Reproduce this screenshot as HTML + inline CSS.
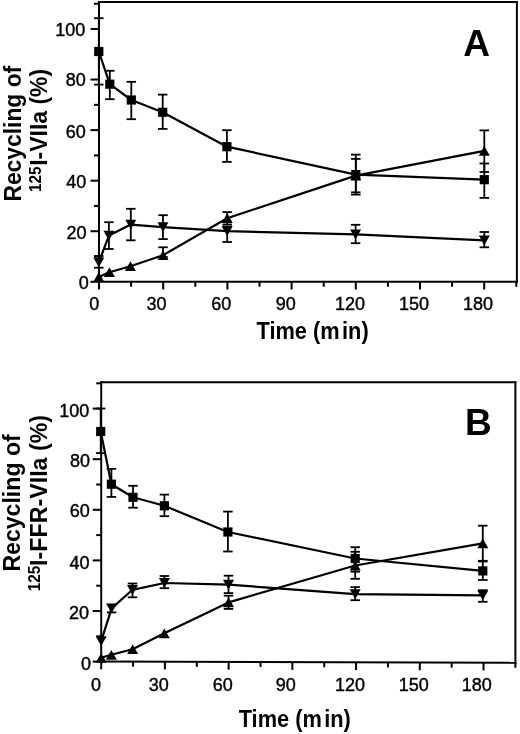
<!DOCTYPE html>
<html><head><meta charset="utf-8"><style>
html,body{margin:0;padding:0;background:#fff;width:520px;height:734px;overflow:hidden;}
svg{display:block;filter:grayscale(1);}
text{font-family:"Liberation Sans", sans-serif;}
</style></head><body>
<svg width="520" height="734" viewBox="0 0 520 734">
<rect width="520" height="734" fill="#fff"/>
<g stroke="#000" stroke-linecap="square">
<line x1="99.00" y1="2.00" x2="99.00" y2="281.80" stroke-width="2.0"/>
<line x1="99.00" y1="2.00" x2="516.90" y2="2.00" stroke-width="2.0"/>
<line x1="516.90" y1="2.00" x2="516.90" y2="281.80" stroke-width="2.0"/>
<line x1="99.00" y1="281.80" x2="516.90" y2="281.80" stroke-width="2.0"/>
</g>
<g stroke="#000" stroke-linecap="butt">
<line x1="90.50" y1="281.80" x2="99.00" y2="281.80" stroke-width="2.0"/>
<line x1="94.00" y1="256.52" x2="99.00" y2="256.52" stroke-width="2.0"/>
<line x1="90.50" y1="231.24" x2="99.00" y2="231.24" stroke-width="2.0"/>
<line x1="94.00" y1="205.96" x2="99.00" y2="205.96" stroke-width="2.0"/>
<line x1="90.50" y1="180.68" x2="99.00" y2="180.68" stroke-width="2.0"/>
<line x1="94.00" y1="155.40" x2="99.00" y2="155.40" stroke-width="2.0"/>
<line x1="90.50" y1="130.12" x2="99.00" y2="130.12" stroke-width="2.0"/>
<line x1="94.00" y1="104.84" x2="99.00" y2="104.84" stroke-width="2.0"/>
<line x1="90.50" y1="79.56" x2="99.00" y2="79.56" stroke-width="2.0"/>
<line x1="94.00" y1="54.28" x2="99.00" y2="54.28" stroke-width="2.0"/>
<line x1="90.50" y1="29.00" x2="99.00" y2="29.00" stroke-width="2.0"/>
<line x1="94.00" y1="3.72" x2="99.00" y2="3.72" stroke-width="2.0"/>
<line x1="99.00" y1="281.80" x2="99.00" y2="289.50" stroke-width="2.0"/>
<line x1="131.10" y1="281.80" x2="131.10" y2="286.80" stroke-width="2.0"/>
<line x1="163.20" y1="281.80" x2="163.20" y2="289.50" stroke-width="2.0"/>
<line x1="195.30" y1="281.80" x2="195.30" y2="286.80" stroke-width="2.0"/>
<line x1="227.40" y1="281.80" x2="227.40" y2="289.50" stroke-width="2.0"/>
<line x1="259.50" y1="281.80" x2="259.50" y2="286.80" stroke-width="2.0"/>
<line x1="291.60" y1="281.80" x2="291.60" y2="289.50" stroke-width="2.0"/>
<line x1="323.70" y1="281.80" x2="323.70" y2="286.80" stroke-width="2.0"/>
<line x1="355.80" y1="281.80" x2="355.80" y2="289.50" stroke-width="2.0"/>
<line x1="387.90" y1="281.80" x2="387.90" y2="286.80" stroke-width="2.0"/>
<line x1="420.00" y1="281.80" x2="420.00" y2="289.50" stroke-width="2.0"/>
<line x1="452.10" y1="281.80" x2="452.10" y2="286.80" stroke-width="2.0"/>
<line x1="484.20" y1="281.80" x2="484.20" y2="289.50" stroke-width="2.0"/>
<line x1="516.30" y1="281.80" x2="516.30" y2="286.80" stroke-width="2.0"/>
</g>
<g font-family="Liberation Sans, sans-serif" font-size="18" fill="#000" stroke="#000" stroke-width="0.4">
<text x="70.35" y="35.90" text-anchor="middle">100</text>
<text x="75.80" y="85.80" text-anchor="middle">80</text>
<text x="75.70" y="137.50" text-anchor="middle">60</text>
<text x="76.25" y="188.00" text-anchor="middle">40</text>
<text x="76.50" y="238.90" text-anchor="middle">20</text>
<text x="83.80" y="288.90" text-anchor="middle">0</text>
<text x="94.20" y="310.00" text-anchor="middle">0</text>
<text x="156.50" y="310.00" text-anchor="middle">30</text>
<text x="221.20" y="310.00" text-anchor="middle">60</text>
<text x="285.70" y="310.00" text-anchor="middle">90</text>
<text x="350.00" y="310.00" text-anchor="middle">120</text>
<text x="414.00" y="310.00" text-anchor="middle">150</text>
<text x="478.00" y="310.00" text-anchor="middle">180</text>
</g>
<g stroke="#000">
<polyline points="98.80,51.50 109.80,84.20 131.30,100.00 162.70,112.30 226.90,146.70 355.80,174.60 484.30,179.70" fill="none" stroke-width="2.2" stroke-linejoin="round"/>
<polyline points="98.80,277.00 109.40,272.20 130.40,266.20 163.00,255.20 227.20,218.20 355.80,175.60 484.30,150.90" fill="none" stroke-width="2.2" stroke-linejoin="round"/>
<polyline points="98.80,262.40 108.90,235.60 130.80,224.60 163.00,227.20 227.20,231.20 355.60,234.40 484.30,240.30" fill="none" stroke-width="2.2" stroke-linejoin="round"/>
<line x1="98.80" y1="18.20" x2="98.80" y2="84.60" stroke-width="1.8"/>
<line x1="94.05" y1="18.20" x2="103.55" y2="18.20" stroke-width="1.8"/>
<line x1="94.05" y1="84.60" x2="103.55" y2="84.60" stroke-width="1.8"/>
<line x1="109.80" y1="70.80" x2="109.80" y2="99.20" stroke-width="1.8"/>
<line x1="105.05" y1="70.80" x2="114.55" y2="70.80" stroke-width="1.8"/>
<line x1="105.05" y1="99.20" x2="114.55" y2="99.20" stroke-width="1.8"/>
<line x1="131.30" y1="81.80" x2="131.30" y2="119.20" stroke-width="1.8"/>
<line x1="126.55" y1="81.80" x2="136.05" y2="81.80" stroke-width="1.8"/>
<line x1="126.55" y1="119.20" x2="136.05" y2="119.20" stroke-width="1.8"/>
<line x1="162.70" y1="94.60" x2="162.70" y2="128.90" stroke-width="1.8"/>
<line x1="157.95" y1="94.60" x2="167.45" y2="94.60" stroke-width="1.8"/>
<line x1="157.95" y1="128.90" x2="167.45" y2="128.90" stroke-width="1.8"/>
<line x1="226.90" y1="130.20" x2="226.90" y2="161.90" stroke-width="1.8"/>
<line x1="222.15" y1="130.20" x2="231.65" y2="130.20" stroke-width="1.8"/>
<line x1="222.15" y1="161.90" x2="231.65" y2="161.90" stroke-width="1.8"/>
<line x1="355.80" y1="154.60" x2="355.80" y2="194.60" stroke-width="1.8"/>
<line x1="351.05" y1="154.60" x2="360.55" y2="154.60" stroke-width="1.8"/>
<line x1="351.05" y1="194.60" x2="360.55" y2="194.60" stroke-width="1.8"/>
<line x1="484.30" y1="163.50" x2="484.30" y2="197.90" stroke-width="1.8"/>
<line x1="479.55" y1="163.50" x2="489.05" y2="163.50" stroke-width="1.8"/>
<line x1="479.55" y1="197.90" x2="489.05" y2="197.90" stroke-width="1.8"/>
<line x1="163.00" y1="247.30" x2="163.00" y2="257.00" stroke-width="1.8"/>
<line x1="158.25" y1="247.30" x2="167.75" y2="247.30" stroke-width="1.8"/>
<line x1="158.25" y1="257.00" x2="167.75" y2="257.00" stroke-width="1.8"/>
<line x1="227.20" y1="212.10" x2="227.20" y2="224.50" stroke-width="1.8"/>
<line x1="222.45" y1="212.10" x2="231.95" y2="212.10" stroke-width="1.8"/>
<line x1="222.45" y1="224.50" x2="231.95" y2="224.50" stroke-width="1.8"/>
<line x1="355.80" y1="158.90" x2="355.80" y2="192.30" stroke-width="1.8"/>
<line x1="351.05" y1="158.90" x2="360.55" y2="158.90" stroke-width="1.8"/>
<line x1="351.05" y1="192.30" x2="360.55" y2="192.30" stroke-width="1.8"/>
<line x1="484.30" y1="130.40" x2="484.30" y2="172.00" stroke-width="1.8"/>
<line x1="479.55" y1="130.40" x2="489.05" y2="130.40" stroke-width="1.8"/>
<line x1="479.55" y1="172.00" x2="489.05" y2="172.00" stroke-width="1.8"/>
<line x1="98.80" y1="256.00" x2="98.80" y2="267.70" stroke-width="1.8"/>
<line x1="94.05" y1="256.00" x2="103.55" y2="256.00" stroke-width="1.8"/>
<line x1="94.05" y1="267.70" x2="103.55" y2="267.70" stroke-width="1.8"/>
<line x1="108.90" y1="222.20" x2="108.90" y2="249.00" stroke-width="1.8"/>
<line x1="104.15" y1="222.20" x2="113.65" y2="222.20" stroke-width="1.8"/>
<line x1="104.15" y1="249.00" x2="113.65" y2="249.00" stroke-width="1.8"/>
<line x1="130.80" y1="208.80" x2="130.80" y2="240.30" stroke-width="1.8"/>
<line x1="126.05" y1="208.80" x2="135.55" y2="208.80" stroke-width="1.8"/>
<line x1="126.05" y1="240.30" x2="135.55" y2="240.30" stroke-width="1.8"/>
<line x1="163.00" y1="215.20" x2="163.00" y2="239.10" stroke-width="1.8"/>
<line x1="158.25" y1="215.20" x2="167.75" y2="215.20" stroke-width="1.8"/>
<line x1="158.25" y1="239.10" x2="167.75" y2="239.10" stroke-width="1.8"/>
<line x1="227.20" y1="226.50" x2="227.20" y2="242.00" stroke-width="1.8"/>
<line x1="222.45" y1="226.50" x2="231.95" y2="226.50" stroke-width="1.8"/>
<line x1="222.45" y1="242.00" x2="231.95" y2="242.00" stroke-width="1.8"/>
<line x1="355.60" y1="224.80" x2="355.60" y2="243.20" stroke-width="1.8"/>
<line x1="350.85" y1="224.80" x2="360.35" y2="224.80" stroke-width="1.8"/>
<line x1="350.85" y1="243.20" x2="360.35" y2="243.20" stroke-width="1.8"/>
<line x1="484.30" y1="232.00" x2="484.30" y2="247.30" stroke-width="1.8"/>
<line x1="479.55" y1="232.00" x2="489.05" y2="232.00" stroke-width="1.8"/>
<line x1="479.55" y1="247.30" x2="489.05" y2="247.30" stroke-width="1.8"/>
</g>
<g>
<rect x="94.20" y="46.90" width="9.2" height="9.2" fill="#000" stroke="none"/>
<rect x="105.20" y="79.60" width="9.2" height="9.2" fill="#000" stroke="none"/>
<rect x="126.70" y="95.40" width="9.2" height="9.2" fill="#000" stroke="none"/>
<rect x="158.10" y="107.70" width="9.2" height="9.2" fill="#000" stroke="none"/>
<rect x="222.30" y="142.10" width="9.2" height="9.2" fill="#000" stroke="none"/>
<rect x="351.20" y="170.00" width="9.2" height="9.2" fill="#000" stroke="none"/>
<rect x="479.70" y="175.10" width="9.2" height="9.2" fill="#000" stroke="none"/>
<polygon points="98.80,272.10 104.30,281.90 93.30,281.90" fill="#000" stroke="none"/>
<polygon points="109.40,267.30 114.90,277.10 103.90,277.10" fill="#000" stroke="none"/>
<polygon points="130.40,261.30 135.90,271.10 124.90,271.10" fill="#000" stroke="none"/>
<polygon points="163.00,250.30 168.50,260.10 157.50,260.10" fill="#000" stroke="none"/>
<polygon points="227.20,213.30 232.70,223.10 221.70,223.10" fill="#000" stroke="none"/>
<polygon points="355.80,170.70 361.30,180.50 350.30,180.50" fill="#000" stroke="none"/>
<polygon points="484.30,146.00 489.80,155.80 478.80,155.80" fill="#000" stroke="none"/>
<polygon points="93.30,257.50 104.30,257.50 98.80,267.30" fill="#000" stroke="none"/>
<polygon points="103.40,230.70 114.40,230.70 108.90,240.50" fill="#000" stroke="none"/>
<polygon points="125.30,219.70 136.30,219.70 130.80,229.50" fill="#000" stroke="none"/>
<polygon points="157.50,222.30 168.50,222.30 163.00,232.10" fill="#000" stroke="none"/>
<polygon points="221.70,226.30 232.70,226.30 227.20,236.10" fill="#000" stroke="none"/>
<polygon points="350.10,229.50 361.10,229.50 355.60,239.30" fill="#000" stroke="none"/>
<polygon points="478.80,235.40 489.80,235.40 484.30,245.20" fill="#000" stroke="none"/>
</g>
<g stroke="#000" stroke-linecap="square">
<line x1="101.20" y1="382.30" x2="101.20" y2="661.60" stroke-width="2.0"/>
<line x1="101.20" y1="382.30" x2="515.40" y2="382.30" stroke-width="2.0"/>
<line x1="515.40" y1="382.30" x2="515.40" y2="662.80" stroke-width="2.0"/>
<line x1="101.20" y1="661.60" x2="515.40" y2="662.80" stroke-width="2.0"/>
</g>
<g stroke="#000" stroke-linecap="butt">
<line x1="92.70" y1="661.60" x2="101.20" y2="661.60" stroke-width="2.0"/>
<line x1="96.20" y1="636.30" x2="101.20" y2="636.30" stroke-width="2.0"/>
<line x1="92.70" y1="611.00" x2="101.20" y2="611.00" stroke-width="2.0"/>
<line x1="96.20" y1="585.70" x2="101.20" y2="585.70" stroke-width="2.0"/>
<line x1="92.70" y1="560.40" x2="101.20" y2="560.40" stroke-width="2.0"/>
<line x1="96.20" y1="535.10" x2="101.20" y2="535.10" stroke-width="2.0"/>
<line x1="92.70" y1="509.80" x2="101.20" y2="509.80" stroke-width="2.0"/>
<line x1="96.20" y1="484.50" x2="101.20" y2="484.50" stroke-width="2.0"/>
<line x1="92.70" y1="459.20" x2="101.20" y2="459.20" stroke-width="2.0"/>
<line x1="96.20" y1="433.90" x2="101.20" y2="433.90" stroke-width="2.0"/>
<line x1="92.70" y1="408.60" x2="101.20" y2="408.60" stroke-width="2.0"/>
<line x1="96.20" y1="383.30" x2="101.20" y2="383.30" stroke-width="2.0"/>
<line x1="101.20" y1="661.60" x2="101.20" y2="669.30" stroke-width="2.0"/>
<line x1="133.06" y1="661.69" x2="133.06" y2="666.69" stroke-width="2.0"/>
<line x1="164.92" y1="661.78" x2="164.92" y2="669.48" stroke-width="2.0"/>
<line x1="196.78" y1="661.88" x2="196.78" y2="666.88" stroke-width="2.0"/>
<line x1="228.64" y1="661.97" x2="228.64" y2="669.67" stroke-width="2.0"/>
<line x1="260.50" y1="662.06" x2="260.50" y2="667.06" stroke-width="2.0"/>
<line x1="292.36" y1="662.15" x2="292.36" y2="669.85" stroke-width="2.0"/>
<line x1="324.22" y1="662.25" x2="324.22" y2="667.25" stroke-width="2.0"/>
<line x1="356.08" y1="662.34" x2="356.08" y2="670.04" stroke-width="2.0"/>
<line x1="387.94" y1="662.43" x2="387.94" y2="667.43" stroke-width="2.0"/>
<line x1="419.80" y1="662.52" x2="419.80" y2="670.22" stroke-width="2.0"/>
<line x1="451.66" y1="662.62" x2="451.66" y2="667.62" stroke-width="2.0"/>
<line x1="483.52" y1="662.71" x2="483.52" y2="670.41" stroke-width="2.0"/>
<line x1="515.38" y1="662.80" x2="515.38" y2="667.80" stroke-width="2.0"/>
</g>
<g font-family="Liberation Sans, sans-serif" font-size="18" fill="#000" stroke="#000" stroke-width="0.4">
<text x="74.35" y="416.80" text-anchor="middle">100</text>
<text x="79.95" y="466.90" text-anchor="middle">80</text>
<text x="79.85" y="516.70" text-anchor="middle">60</text>
<text x="79.45" y="569.00" text-anchor="middle">40</text>
<text x="79.00" y="618.60" text-anchor="middle">20</text>
<text x="85.90" y="669.50" text-anchor="middle">0</text>
<text x="96.10" y="691.10" text-anchor="middle">0</text>
<text x="158.80" y="691.10" text-anchor="middle">30</text>
<text x="222.80" y="691.10" text-anchor="middle">60</text>
<text x="285.70" y="691.10" text-anchor="middle">90</text>
<text x="350.00" y="691.10" text-anchor="middle">120</text>
<text x="413.80" y="691.10" text-anchor="middle">150</text>
<text x="476.80" y="691.10" text-anchor="middle">180</text>
</g>
<g stroke="#000">
<polyline points="100.70,431.50 111.40,484.20 133.00,497.30 164.40,505.80 227.90,532.00 355.20,558.50 482.80,570.90" fill="none" stroke-width="2.2" stroke-linejoin="round"/>
<polyline points="101.20,657.80 111.30,654.80 132.60,649.20 164.30,633.30 228.50,602.40 355.20,565.50 482.80,543.30" fill="none" stroke-width="2.2" stroke-linejoin="round"/>
<polyline points="101.20,641.20 111.60,608.40 132.50,589.80 164.40,583.00 228.50,584.60 355.20,594.20 482.80,595.30" fill="none" stroke-width="2.2" stroke-linejoin="round"/>
<line x1="100.70" y1="408.50" x2="100.70" y2="453.10" stroke-width="1.8"/>
<line x1="95.95" y1="408.50" x2="105.45" y2="408.50" stroke-width="1.8"/>
<line x1="95.95" y1="453.10" x2="105.45" y2="453.10" stroke-width="1.8"/>
<line x1="111.40" y1="468.90" x2="111.40" y2="496.90" stroke-width="1.8"/>
<line x1="106.65" y1="468.90" x2="116.15" y2="468.90" stroke-width="1.8"/>
<line x1="106.65" y1="496.90" x2="116.15" y2="496.90" stroke-width="1.8"/>
<line x1="133.00" y1="485.80" x2="133.00" y2="507.70" stroke-width="1.8"/>
<line x1="128.25" y1="485.80" x2="137.75" y2="485.80" stroke-width="1.8"/>
<line x1="128.25" y1="507.70" x2="137.75" y2="507.70" stroke-width="1.8"/>
<line x1="164.40" y1="494.60" x2="164.40" y2="516.20" stroke-width="1.8"/>
<line x1="159.65" y1="494.60" x2="169.15" y2="494.60" stroke-width="1.8"/>
<line x1="159.65" y1="516.20" x2="169.15" y2="516.20" stroke-width="1.8"/>
<line x1="227.90" y1="511.60" x2="227.90" y2="551.50" stroke-width="1.8"/>
<line x1="223.15" y1="511.60" x2="232.65" y2="511.60" stroke-width="1.8"/>
<line x1="223.15" y1="551.50" x2="232.65" y2="551.50" stroke-width="1.8"/>
<line x1="355.20" y1="547.20" x2="355.20" y2="571.70" stroke-width="1.8"/>
<line x1="350.45" y1="547.20" x2="359.95" y2="547.20" stroke-width="1.8"/>
<line x1="350.45" y1="571.70" x2="359.95" y2="571.70" stroke-width="1.8"/>
<line x1="482.80" y1="561.50" x2="482.80" y2="580.00" stroke-width="1.8"/>
<line x1="478.05" y1="561.50" x2="487.55" y2="561.50" stroke-width="1.8"/>
<line x1="478.05" y1="580.00" x2="487.55" y2="580.00" stroke-width="1.8"/>
<line x1="228.50" y1="595.70" x2="228.50" y2="608.90" stroke-width="1.8"/>
<line x1="223.75" y1="595.70" x2="233.25" y2="595.70" stroke-width="1.8"/>
<line x1="223.75" y1="608.90" x2="233.25" y2="608.90" stroke-width="1.8"/>
<line x1="355.20" y1="551.80" x2="355.20" y2="578.80" stroke-width="1.8"/>
<line x1="350.45" y1="551.80" x2="359.95" y2="551.80" stroke-width="1.8"/>
<line x1="350.45" y1="578.80" x2="359.95" y2="578.80" stroke-width="1.8"/>
<line x1="482.80" y1="525.70" x2="482.80" y2="560.80" stroke-width="1.8"/>
<line x1="478.05" y1="525.70" x2="487.55" y2="525.70" stroke-width="1.8"/>
<line x1="478.05" y1="560.80" x2="487.55" y2="560.80" stroke-width="1.8"/>
<line x1="132.50" y1="583.50" x2="132.50" y2="597.30" stroke-width="1.8"/>
<line x1="127.75" y1="583.50" x2="137.25" y2="583.50" stroke-width="1.8"/>
<line x1="127.75" y1="597.30" x2="137.25" y2="597.30" stroke-width="1.8"/>
<line x1="164.40" y1="576.00" x2="164.40" y2="588.20" stroke-width="1.8"/>
<line x1="159.65" y1="576.00" x2="169.15" y2="576.00" stroke-width="1.8"/>
<line x1="159.65" y1="588.20" x2="169.15" y2="588.20" stroke-width="1.8"/>
<line x1="228.50" y1="575.70" x2="228.50" y2="593.10" stroke-width="1.8"/>
<line x1="223.75" y1="575.70" x2="233.25" y2="575.70" stroke-width="1.8"/>
<line x1="223.75" y1="593.10" x2="233.25" y2="593.10" stroke-width="1.8"/>
<line x1="355.20" y1="587.10" x2="355.20" y2="600.20" stroke-width="1.8"/>
<line x1="350.45" y1="587.10" x2="359.95" y2="587.10" stroke-width="1.8"/>
<line x1="350.45" y1="600.20" x2="359.95" y2="600.20" stroke-width="1.8"/>
<line x1="482.80" y1="590.20" x2="482.80" y2="601.80" stroke-width="1.8"/>
<line x1="478.05" y1="590.20" x2="487.55" y2="590.20" stroke-width="1.8"/>
<line x1="478.05" y1="601.80" x2="487.55" y2="601.80" stroke-width="1.8"/>
<line x1="106.85" y1="612.40" x2="116.35" y2="612.40" stroke-width="1.8"/>
</g>
<g>
<rect x="96.10" y="426.90" width="9.2" height="9.2" fill="#000" stroke="none"/>
<rect x="106.80" y="479.60" width="9.2" height="9.2" fill="#000" stroke="none"/>
<rect x="128.40" y="492.70" width="9.2" height="9.2" fill="#000" stroke="none"/>
<rect x="159.80" y="501.20" width="9.2" height="9.2" fill="#000" stroke="none"/>
<rect x="223.30" y="527.40" width="9.2" height="9.2" fill="#000" stroke="none"/>
<rect x="350.60" y="553.90" width="9.2" height="9.2" fill="#000" stroke="none"/>
<rect x="478.20" y="566.30" width="9.2" height="9.2" fill="#000" stroke="none"/>
<polygon points="101.20,652.90 106.70,662.70 95.70,662.70" fill="#000" stroke="none"/>
<polygon points="111.30,649.90 116.80,659.70 105.80,659.70" fill="#000" stroke="none"/>
<polygon points="132.60,644.30 138.10,654.10 127.10,654.10" fill="#000" stroke="none"/>
<polygon points="164.30,628.40 169.80,638.20 158.80,638.20" fill="#000" stroke="none"/>
<polygon points="228.50,597.50 234.00,607.30 223.00,607.30" fill="#000" stroke="none"/>
<polygon points="355.20,560.60 360.70,570.40 349.70,570.40" fill="#000" stroke="none"/>
<polygon points="482.80,538.40 488.30,548.20 477.30,548.20" fill="#000" stroke="none"/>
<polygon points="95.70,636.30 106.70,636.30 101.20,646.10" fill="#000" stroke="none"/>
<polygon points="106.10,603.50 117.10,603.50 111.60,613.30" fill="#000" stroke="none"/>
<polygon points="127.00,584.90 138.00,584.90 132.50,594.70" fill="#000" stroke="none"/>
<polygon points="158.90,578.10 169.90,578.10 164.40,587.90" fill="#000" stroke="none"/>
<polygon points="223.00,579.70 234.00,579.70 228.50,589.50" fill="#000" stroke="none"/>
<polygon points="349.70,589.30 360.70,589.30 355.20,599.10" fill="#000" stroke="none"/>
<polygon points="477.30,590.40 488.30,590.40 482.80,600.20" fill="#000" stroke="none"/>
</g>
<text x="256.5" y="338.7" font-family="Liberation Sans, sans-serif" font-weight="bold" font-size="23" textLength="112.2" lengthAdjust="spacingAndGlyphs">Time (m<tspan dx="2.5">in)</tspan></text>
<text x="238.7" y="726.8" font-family="Liberation Sans, sans-serif" font-weight="bold" font-size="23" textLength="112.2" lengthAdjust="spacingAndGlyphs">Time (m<tspan dx="2.5">in)</tspan></text>
<text x="476.5" y="56.2" font-family="Liberation Sans, sans-serif" font-weight="bold" font-size="37" text-anchor="middle">A</text>
<text x="478.4" y="434.7" font-family="Liberation Sans, sans-serif" font-weight="bold" font-size="37" text-anchor="middle">B</text>
<text transform="translate(20.80,201.60) rotate(-90)" font-family="Liberation Sans, sans-serif" font-weight="bold" font-size="23.5" textLength="135.8" lengthAdjust="spacingAndGlyphs">Recycling of</text>
<text transform="translate(41.00,192.00) rotate(-90)" font-family="Liberation Sans, sans-serif" font-weight="bold" font-size="16.5" textLength="25.5" lengthAdjust="spacingAndGlyphs">125</text>
<text transform="translate(47.40,165.80) rotate(-90)" font-family="Liberation Sans, sans-serif" font-weight="bold" font-size="23.5" textLength="97" lengthAdjust="spacingAndGlyphs">I-VIIa (%)</text>
<text transform="translate(20.00,571.60) rotate(-90)" font-family="Liberation Sans, sans-serif" font-weight="bold" font-size="23.5" textLength="137.3" lengthAdjust="spacingAndGlyphs">Recycling of</text>
<text transform="translate(39.80,591.30) rotate(-90)" font-family="Liberation Sans, sans-serif" font-weight="bold" font-size="16.5" textLength="25.5" lengthAdjust="spacingAndGlyphs">125</text>
<text transform="translate(47.10,565.90) rotate(-90)" font-family="Liberation Sans, sans-serif" font-weight="bold" font-size="23.5" textLength="151" lengthAdjust="spacingAndGlyphs">I-FFR-VIIa (%)</text>
</svg>
</body></html>
